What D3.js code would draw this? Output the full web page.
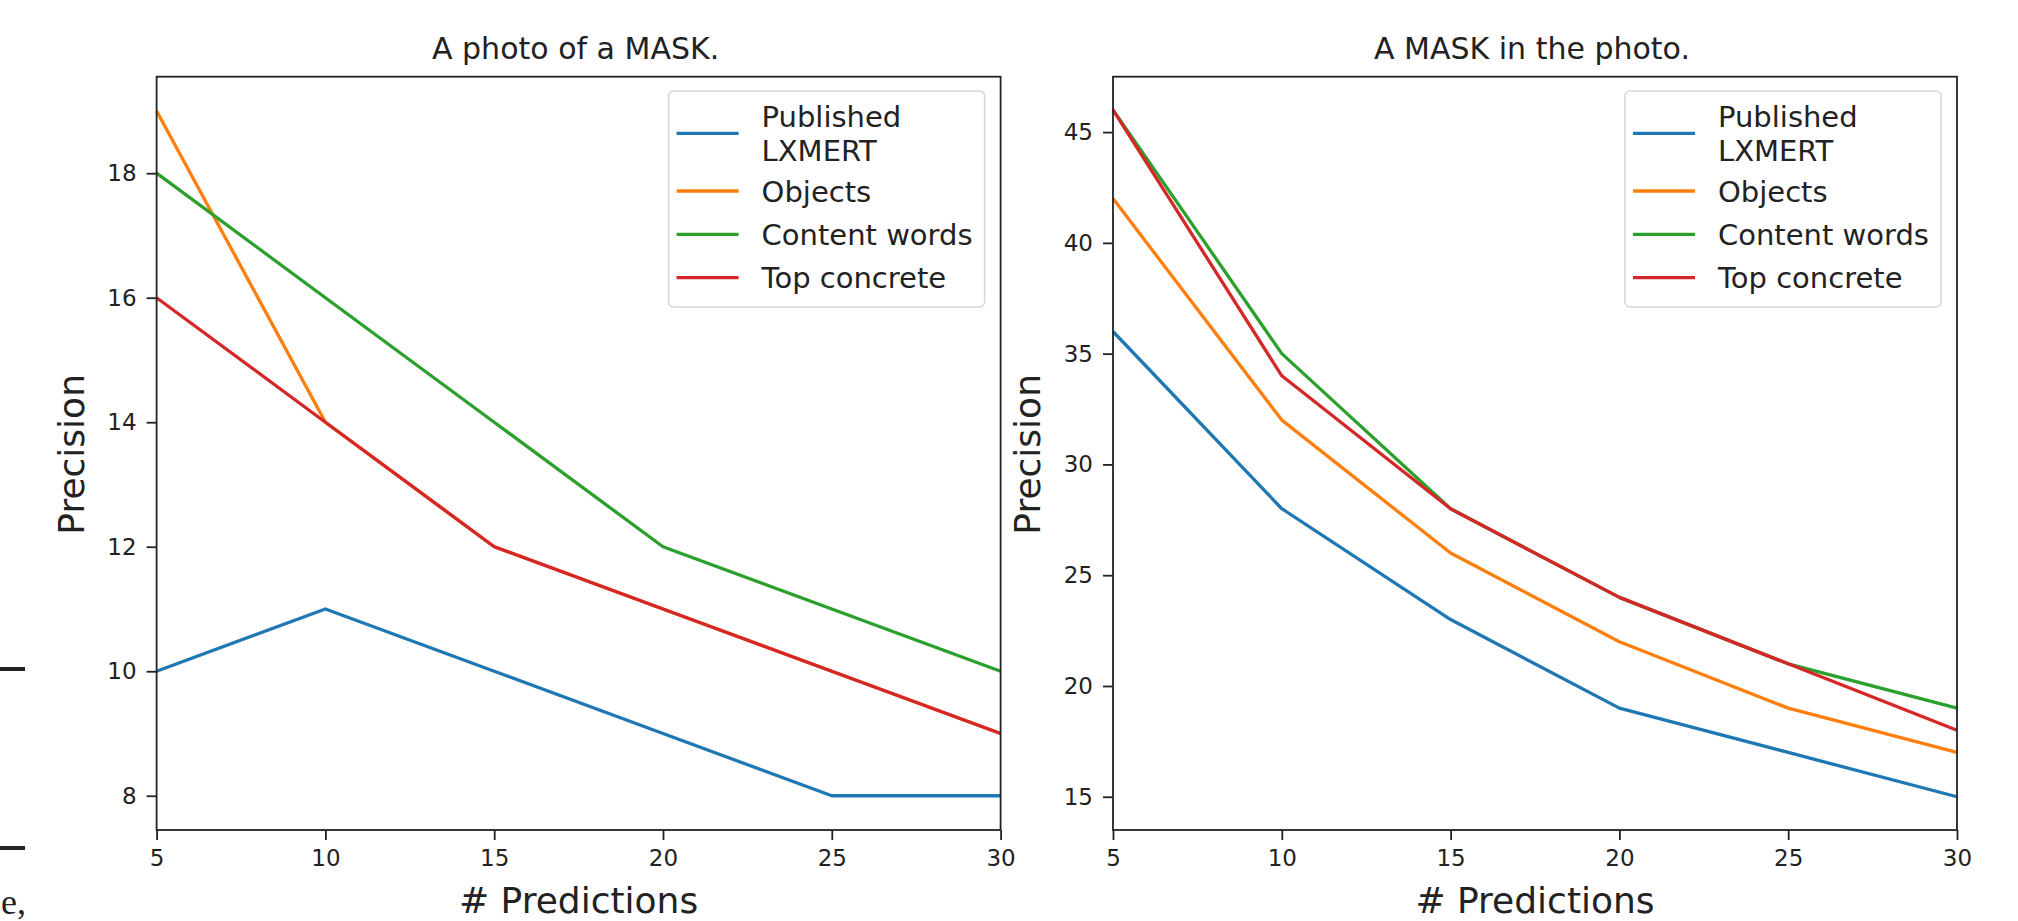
<!DOCTYPE html>
<html>
<head>
<meta charset="utf-8">
<script src="https://cdn.jsdelivr.net/npm/d3@7"></script>
<style>
  body { margin: 0; background: #fff; }
  svg { display: block; font-family: 'DejaVu Sans', sans-serif; }
</style>
</head>
<body>
<div id="chart"><svg width="2018" height="921"></svg></div>
<script>
const PREDICTIONS = [5, 10, 15, 20, 25, 30];
const SERIES = [['Published', 'LXMERT'], ['Objects'], ['Content words'], ['Top concrete']];
const COLORS = ['#1f77b4', '#ff7f0e', '#2ca02c', '#d62728'];

// "A photo of a MASK."
const PHOTO_LXMERT = [10, 11, 10, 9, 8, 8];
const PHOTO_OBJECTS = [19, 14, 12, 11, 10, 9];
const PHOTO_CONTENT = [18, 16, 14, 12, 11, 10];
const PHOTO_CONCRETE = [16, 14, 12, 11, 10, 9];
const PHOTO_Y_TICKS = [8, 10, 12, 14, 16, 18];

// "A MASK in the photo."
const IN_LXMERT = [36, 28, 23, 19, 17, 15];
const IN_OBJECTS = [42, 32, 26, 22, 19, 17];
const IN_CONTENT = [46, 35, 28, 24, 21, 19];
const IN_CONCRETE = [46, 34, 28, 24, 21, 18];
const IN_Y_TICKS = [15, 20, 25, 30, 35, 40, 45];

const SVG = d3.select('#chart svg');
const TOP = 76.7;
const BOTTOM = 830;

const PANELS = [
  {
    title: 'A photo of a MASK.',
    left: 156.6, right: 1000.6,
    yDomain: [7.45, 19.55],
    yTicks: PHOTO_Y_TICKS,
    series: [PHOTO_LXMERT, PHOTO_OBJECTS, PHOTO_CONTENT, PHOTO_CONCRETE],
  },
  {
    title: 'A MASK in the photo.',
    left: 1113, right: 1957,
    yDomain: [13.5, 47.5],
    yTicks: IN_Y_TICKS,
    series: [IN_LXMERT, IN_OBJECTS, IN_CONTENT, IN_CONCRETE],
  },
];

PANELS.forEach((p) => {
  const X_SCALE = d3.scaleLinear().domain([5, 30]).range([p.left, p.right]);
  const Y_SCALE = d3.scaleLinear().domain(p.yDomain).range([BOTTOM, TOP]);
  const G = SVG.append('g');

  // lines
  const LINE = d3.line()
    .x((d, i) => X_SCALE(PREDICTIONS[i]))
    .y((d) => Y_SCALE(d));
  p.series.forEach((s, i) => {
    G.append('path')
      .attr('d', LINE(s))
      .style('fill', 'none')
      .style('stroke', COLORS[i])
      .style('stroke-width', 3.3)
      .style('stroke-linejoin', 'round');
  });

  // axes
  const X_AXIS = d3.axisBottom(X_SCALE).tickValues(PREDICTIONS).tickSize(10).tickPadding(10).tickSizeOuter(0);
  const X_AXIS_G = G.append('g').attr('transform', `translate(0, ${BOTTOM})`);
  X_AXIS(X_AXIS_G);
  const Y_AXIS = d3.axisLeft(Y_SCALE).tickValues(p.yTicks).tickSize(10).tickPadding(10).tickSizeOuter(0);
  const Y_AXIS_G = G.append('g').attr('transform', `translate(${p.left}, 0)`);
  Y_AXIS(Y_AXIS_G);
  [X_AXIS_G, Y_AXIS_G].forEach((a) => {
    a.select('.domain').remove();
    a.selectAll('line').style('stroke', '#222').style('stroke-width', 1.8);
    a.selectAll('text').style('font-size', '23px').style('fill', '#222')
      .style('font-family', "'DejaVu Sans', sans-serif");
  });

  // frame
  G.append('rect')
    .attr('x', p.left).attr('y', TOP)
    .attr('width', p.right - p.left).attr('height', BOTTOM - TOP)
    .style('fill', 'none').style('stroke', '#222').style('stroke-width', 1.8);

  // title and labels
  const MID = (p.left + p.right) / 2;
  G.append('text').text(p.title)
    .attr('x', MID - 3).attr('y', 59)
    .style('text-anchor', 'middle').style('font-size', '30px').style('fill', '#222');
  G.append('text').text('# Predictions')
    .attr('x', MID).attr('y', 913)
    .style('text-anchor', 'middle').style('font-size', '36px').style('fill', '#222');
  G.append('text').text('Precision')
    .attr('transform', `translate(${p.left - 73}, ${(TOP + BOTTOM) / 2 + 1}) rotate(-90)`)
    .style('text-anchor', 'middle').style('font-size', '36px').style('fill', '#222');

  // legend
  const LW = 316;
  const LX = p.right - 16 - LW;
  const LY = 91;
  const LEGEND = G.append('g').attr('transform', `translate(${LX}, ${LY})`);
  LEGEND.append('rect')
    .attr('width', LW).attr('height', 216).attr('rx', 5)
    .style('fill', '#fff').style('fill-opacity', 0.8)
    .style('stroke', '#d6d6d6').style('stroke-width', 1.5);
  const ROW_Y = [42.3, 100, 143.3, 186.7];
  SERIES.forEach((name, i) => {
    LEGEND.append('line')
      .attr('x1', 8).attr('x2', 70)
      .attr('y1', ROW_Y[i]).attr('y2', ROW_Y[i])
      .style('stroke', COLORS[i]).style('stroke-width', 3.3);
    const T = LEGEND.append('text')
      .attr('x', 93)
      .attr('y', ROW_Y[i] + 10.5 - (name.length - 1) * 16.7)
      .style('font-size', '29px').style('fill', '#222');
    name.forEach((line, j) => {
      T.append('tspan').text(line)
        .attr('x', 93).attr('dy', j === 0 ? 0 : 33.4);
    });
  });
});

// bits of the surrounding page visible on the left edge
SVG.append('line').attr('x1', 0).attr('x2', 25).attr('y1', 669).attr('y2', 669)
  .style('stroke', '#222').style('stroke-width', 4);
SVG.append('line').attr('x1', 0).attr('x2', 25).attr('y1', 848).attr('y2', 848)
  .style('stroke', '#222').style('stroke-width', 4);
SVG.append('text').text('e,')
  .attr('x', 1).attr('y', 914)
  .style('font-family', "'Liberation Serif', serif").style('font-size', '36px').style('fill', '#222');
</script>
</body>
</html>
